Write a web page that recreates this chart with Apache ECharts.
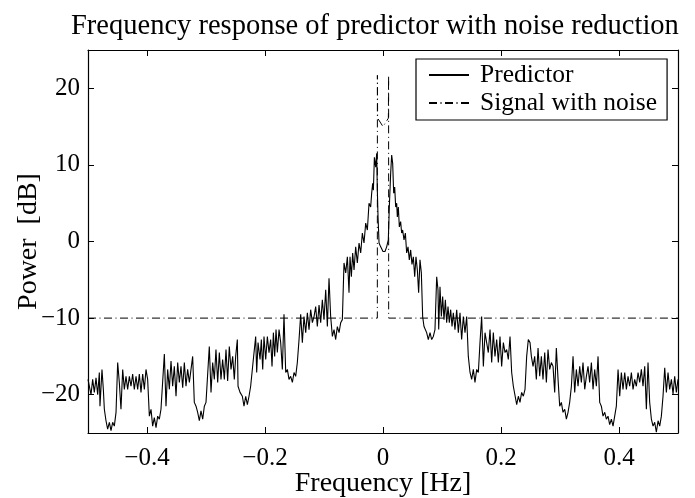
<!DOCTYPE html>
<html>
<head>
<meta charset="utf-8">
<script src="https://cdn.jsdelivr.net/npm/echarts@6/dist/echarts.min.js"></script>
<style>html,body{margin:0;padding:0;background:#fff}#c{width:695px;height:498px}</style>
</head>
<body>
<div id="c"></div>
<script>
const titleText = 'Frequency response of predictor with noise reduction';
const xName = 'Frequency [Hz]';
const yName = 'Power  [dB]';
const seriesNames = ['Predictor', 'Signal with noise'];
const xTicks = [-0.4, -0.2, 0, 0.2, 0.4];
const yTicks = [-20, -10, 0, 10, 20];

const predFreq = [
-0.5,-0.4978,-0.4949,-0.4921,-0.4893,-0.4864,-0.4836,-0.4808,-0.4797,-0.4763,-0.4740,-0.4723,-0.4695,-0.4667,-0.4638,-0.4610,-0.4582,-0.4554,-0.4525,
-0.4497,-0.4469,-0.4441,-0.4412,-0.4384,-0.4356,-0.4328,-0.4299,-0.4271,-0.4243,-0.4215,-0.4186,-0.4158,-0.4130,-0.4102,-0.4073,-0.4045,-0.4017,-0.3989,
-0.3960,-0.3932,-0.3904,-0.3876,-0.3847,-0.3819,-0.3791,-0.3763,-0.3706,-0.3678,-0.3650,-0.3621,-0.3593,-0.3565,-0.3537,-0.3508,-0.3480,-0.3452,-0.3424,
-0.3395,-0.3367,-0.3339,-0.3311,-0.3282,-0.3226,-0.3198,-0.3169,-0.3141,-0.3113,-0.3085,-0.3056,-0.3028,-0.3000,-0.2944,-0.2915,-0.2887,-0.2859,-0.2831,
-0.2802,-0.2774,-0.2746,-0.2718,-0.2689,-0.2661,-0.2633,-0.2605,-0.2576,-0.2548,-0.2520,
-0.2497,-0.2469,-0.2457,-0.2423,-0.2384,-0.2356,-0.2327,-0.2299,-0.2271,-0.2243,-0.2214,-0.2186,-0.2158,-0.2141,-0.2118,-0.2084,-0.2062,-0.2039,-0.2017,
-0.1988,-0.1960,-0.1932,-0.1904,-0.1881,-0.1858,-0.1836,-0.1813,-0.1791,-0.1762,-0.1734,-0.1706,-0.1678,-0.1649,-0.1621,-0.1593,-0.1565,-0.1536,-0.1508,
-0.1480,-0.1452,-0.1423,-0.1395,-0.1367,-0.1339,-0.1310,-0.1282,-0.1254,-0.1226,-0.1197,-0.1169,-0.1141,-0.1113,-0.1084,-0.1056,-0.1028,-0.1000,-0.0971,
-0.0943,-0.0915,-0.0887,-0.0858,-0.0830,-0.0802,-0.0774,-0.0745,-0.0717,-0.0689,-0.0661,-0.0632,-0.0604,-0.0576,-0.0559,-0.0536,-0.0514,-0.0491,-0.0463,
-0.0435,-0.0406,-0.0378,-0.0350,-0.0322,-0.0293,-0.0265,-0.0237,-0.0209,-0.0192,-0.0175,-0.0163,-0.0146,-0.0124,-0.0107,-0.0096,-0.0084,-0.0067,-0.0039,0.0000,
0.0006,0.0034,0.0062,0.0090,0.0107,0.0130,0.0147,0.0164,0.0181,0.0198,0.0215,0.0232,0.0243,0.0260,0.0277,0.0299,0.0316,0.0333,0.0356,0.0379,
0.0401,0.0424,0.0446,0.0469,0.0491,0.0514,0.0537,0.0559,0.0582,0.0604,0.0627,0.0650,0.0672,0.0695,0.0717,0.0740,0.0768,0.0797,0.0825,0.0853,
0.0881,0.0910,0.0932,0.0944,0.0966,0.0989,0.1011,0.1034,0.1057,0.1079,0.1102,0.1124,0.1147,0.1170,0.1192,0.1220,0.1249,0.1277,0.1305,0.1333,
0.1362,0.1390,0.1418,0.1446,0.1475,0.1503,0.1531,0.1559,0.1588,0.1616,0.1644,0.1672,0.1701,0.1729,0.1757,0.1785,0.1814,0.1842,0.1870,0.1898,
0.1927,0.1955,0.1983,0.2011,0.2040,0.2068,0.2096,0.2124,0.2153,0.2181,0.2209,0.2237,0.2266,0.2294,0.2322,0.2350,0.2379,0.2407,0.2435,0.2463,0.2492,
0.2515,0.2543,0.2571,0.2599,0.2628,0.2656,0.2684,0.2712,0.2741,0.2769,0.2797,0.2825,0.2854,0.2882,0.2910,0.2938,0.2967,0.2995,0.3023,0.3051,
0.3080,0.3108,0.3136,0.3164,0.3193,0.3221,0.3249,0.3277,0.3306,0.3334,0.3362,0.3390,0.3419,0.3447,0.3475,0.3503,0.3532,0.3560,0.3588,0.3616,
0.3645,0.3673,0.3701,0.3729,0.3758,0.3786,0.3814,0.3842,0.3871,0.3899,0.3927,0.3955,0.3984,0.4012,0.4040,0.4068,0.4097,0.4125,0.4153,0.4181,
0.4210,0.4238,0.4266,0.4294,0.4323,0.4351,0.4379,0.4407,0.4436,0.4464,0.4492,0.4520,0.4549,0.4577,0.4605,0.4633,0.4662,0.4690,0.4718,0.4746,
0.4775,0.4803,0.4831,0.4859,0.4888,0.4916,0.4944,0.4972,0.5000
];
const predPower = [
-18.0,-17.8,-20.0,-18.0,-19.7,-17.8,-20.0,-17.1,-21.5,-16.7,-19.3,-21.9,-23.4,-24.5,-23.6,-24.7,-23.6,-24.1,-22.3,
-15.8,-18.4,-21.9,-16.7,-19.3,-17.6,-19.3,-17.6,-18.9,-17.3,-19.3,-17.6,-19.3,-17.3,-19.7,-17.3,-19.3,-16.7,-18.0,
-22.8,-21.9,-24.1,-23.0,-24.3,-22.8,-23.2,-21.9,-14.7,-21.5,-16.7,-19.3,-15.6,-18.9,-16.3,-20.2,-15.8,-18.4,-16.3,
-19.1,-15.8,-18.9,-16.7,-18.4,-15.0,-21.0,-21.5,-22.3,-23.4,-22.1,-23.2,-21.5,-21.0,-13.7,-19.7,-15.8,-18.0,-14.1,
-18.4,-14.5,-18.0,-15.4,-18.0,-14.1,-18.2,-13.7,-16.7,-15.0,-18.0,
-15.0,-12.8,-18.9,-19.7,-20.2,-21.5,-20.2,-21.3,-20.2,-18.9,-18.9,-14.5,-12.4,-17.1,-13.2,-15.4,-12.8,-16.7,-12.4,
-15.4,-12.4,-14.5,-12.8,-16.3,-11.9,-15.0,-11.5,-14.5,-11.5,-13.2,-16.7,-9.5,-17.1,-16.7,-18.0,-17.6,-18.4,-17.1,
-17.6,-15.8,-12.8,-9.5,-13.2,-9.8,-11.9,-9.3,-11.5,-8.9,-10.6,-9.8,-8.5,-11.1,-8.3,-10.6,-7.6,-10.2,-6.3,
-11.1,-4.8,-9.8,-12.4,-11.5,-12.8,-11.1,-11.9,-10.6,-10.2,-2.8,-4.1,-2.0,-6.7,-2.0,-4.6,-1.5,-3.7,-0.7,
-2.8,-0.2,-1.5,1.1,-0.2,2.4,1.5,5.0,4.5,6.3,7.6,6.7,11.0,9.7,11.5,6.7,3.2,-0.2,-0.7,-1.3,
-1.5,-1.3,-0.7,0.2,4.5,8.9,11.3,10.2,6.3,7.1,4.5,5.0,3.2,4.5,1.9,2.6,1.1,1.5,0.2,1.1,
-1.5,-0.7,-2.4,-1.1,-3.0,-2.0,-4.6,-2.0,-3.7,-6.7,-2.4,-4.1,-9.8,-11.1,-11.1,-11.9,-12.8,-11.9,-12.8,-12.4,
-11.5,-4.6,-6.3,-11.5,-5.9,-9.8,-7.2,-10.2,-7.6,-10.6,-8.5,-10.6,-8.9,-11.1,-9.3,-11.5,-8.9,-11.9,-9.3,-12.8,
-9.8,-11.9,-9.8,-15.0,-17.1,-18.0,-16.7,-18.4,-16.7,-17.1,-13.2,-9.8,-16.3,-11.9,-13.2,-14.5,-11.5,-15.8,-11.9,-15.0,
-12.8,-15.8,-12.4,-16.3,-13.2,-14.5,-14.1,-15.4,-12.4,-17.1,-18.9,-18.9,-21.3,-20.2,-21.0,-19.7,-20.2,-19.3,-15.0,-12.8,-13.2,
-15.0,-16.3,-15.0,-18.0,-13.9,-17.6,-15.0,-18.0,-14.5,-18.4,-14.1,-16.7,-15.8,-16.3,-19.7,-13.9,-18.0,-21.5,-21.0,-22.3,
-21.9,-23.2,-22.3,-21.0,-18.9,-15.0,-19.7,-16.7,-18.9,-16.3,-18.4,-15.8,-19.3,-17.6,-16.3,-18.4,-15.8,-19.3,-16.7,-18.9,
-15.0,-21.0,-21.5,-22.8,-22.3,-23.2,-22.8,-23.9,-23.2,-24.1,-22.8,-21.5,-16.7,-20.2,-17.1,-19.3,-17.1,-19.3,-17.6,-18.9,
-17.1,-19.3,-18.0,-18.9,-17.1,-18.4,-16.7,-18.9,-16.3,-21.9,-15.8,-21.0,-23.2,-24.1,-23.6,-24.9,-23.4,-24.1,-22.8,-20.2,
-16.5,-19.7,-17.1,-19.3,-18.0,-19.9,-17.6,-19.7,-18.0
];

const sigFreq  = [-0.5, -0.0096, -0.0095, -0.0091, 0, 0.0091, 0.0095, 0.0096, 0.5];
const sigPower = [-10, -10, 21.7, 16.1, 15.0, 16.1, 21.7, -10, -10];

const FONT = 'Liberation Serif';
const fmt = v => String(v).replace('-', '\u2212');

const chart = echarts.init(document.getElementById('c'), null, {renderer: 'canvas'});
const axisCommon = {
  type: 'value',
  axisLine: {show: true, onZero: false, lineStyle: {color: '#000', width: 1.2}},
  splitLine: {show: false},
  axisTick: {show: true, inside: true, length: 6, lineStyle: {color: '#000', width: 1}},
};
chart.setOption({
  animation: false,
  backgroundColor: '#fff',
  title: {
    text: titleText, left: 66, top: 7,
    textStyle: {fontFamily: FONT, fontSize: 28.5, fontWeight: 'normal', color: '#000'}
  },
  legend: {
    orient: 'vertical', left: 416, top: 59,
    data: seriesNames,
    backgroundColor: '#fff', borderColor: '#000', borderWidth: 1.2,
    padding: [2, 10, 3, 12], itemGap: 0, itemWidth: 40, itemHeight: 14,
    itemStyle: {color: 'transparent', borderColor: 'transparent', borderWidth: 0},
    textStyle: {fontFamily: FONT, fontSize: 25.5, color: '#000', lineHeight: 28, padding: [0, 0, 0, 6]}
  },
  grid: {left: 88, right: 17, top: 50, bottom: 65, containLabel: false, outerBoundsMode: 'none'},
  xAxis: [
    Object.assign({}, axisCommon, {
      min: -0.5, max: 0.5, position: 'bottom',
      name: xName, nameLocation: 'middle', nameGap: 37, nameMoveOverlap: false,
      nameTextStyle: {fontFamily: FONT, fontSize: 28, color: '#000'},
      axisTick: Object.assign({}, axisCommon.axisTick, {customValues: xTicks}),
      axisLabel: {customValues: xTicks, formatter: fmt, fontFamily: FONT, fontSize: 25, color: '#000', margin: 13}
    }),
    Object.assign({}, axisCommon, {
      min: -0.5, max: 0.5, position: 'top',
      axisTick: Object.assign({}, axisCommon.axisTick, {customValues: xTicks}),
      axisLabel: {show: false}
    })
  ],
  yAxis: [
    Object.assign({}, axisCommon, {
      min: -25, max: 25, position: 'left',
      name: yName, nameLocation: 'middle', nameGap: 45, nameRotate: 90, nameMoveOverlap: false,
      nameTextStyle: {fontFamily: FONT, fontSize: 28, color: '#000'},
      axisTick: Object.assign({}, axisCommon.axisTick, {customValues: yTicks}),
      axisLabel: {customValues: yTicks, formatter: fmt, fontFamily: FONT, fontSize: 25, color: '#000', margin: 8}
    }),
    Object.assign({}, axisCommon, {
      min: -25, max: 25, position: 'right',
      axisTick: Object.assign({}, axisCommon.axisTick, {customValues: yTicks}),
      axisLabel: {show: false}
    })
  ],
  series: [
    {
      name: seriesNames[0], type: 'line', symbol: 'none', xAxisIndex: 0, yAxisIndex: 0,
      data: predFreq.map((f, i) => [f, predPower[i]]),
      lineStyle: {color: '#000', width: 1.1},
      itemStyle: {color: '#000'}
    },
    {
      name: seriesNames[1], type: 'line', symbol: 'none', xAxisIndex: 0, yAxisIndex: 0,
      data: sigFreq.map((f, i) => [f, sigPower[i]]),
      lineStyle: {color: '#000', width: 1, type: [8, 3.5, 1, 3.5]},
      itemStyle: {color: '#000'}
    }
  ]
});
</script>
</body>
</html>
